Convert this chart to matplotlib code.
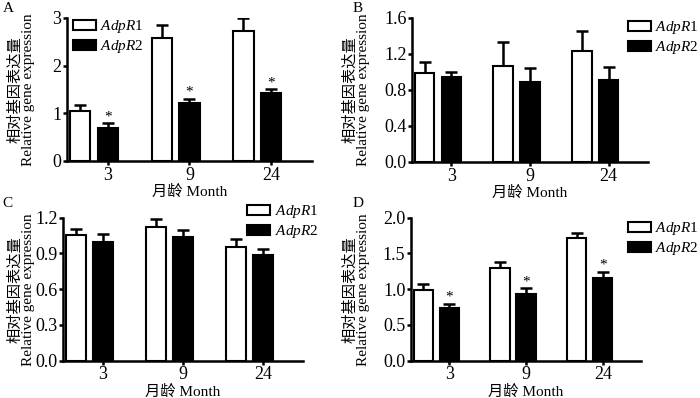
import numpy as np
import matplotlib
matplotlib.use("Agg")
import matplotlib.pyplot as plt
from matplotlib.patches import Patch

plt.rcParams["font.family"] = ["Liberation Serif", "Noto Sans CJK SC"]
plt.rcParams["mathtext.fontset"] = "custom"
plt.rcParams["mathtext.rm"] = "Liberation Serif"
plt.rcParams["mathtext.it"] = "Liberation Serif:italic"
plt.rcParams["font.size"] = 11

months = ["3", "9", "24"]
lab_r1 = r"$\it{AdpR}$1"
lab_r2 = r"$\it{AdpR2}$"

# panel A
a_r1 = [1.05, 2.58, 2.72]
a_r1_err = [0.12, 0.28, 0.27]
a_r2 = [0.70, 1.21, 1.42]
a_r2_err = [0.09, 0.09, 0.08]
a_star = [True, True, True]

# panel B
b_r1 = [0.99, 1.07, 1.23]
b_r1_err = [0.12, 0.26, 0.23]
b_r2 = [0.94, 0.89, 0.91]
b_r2_err = [0.06, 0.15, 0.15]
b_star = [False, False, False]

# panel C
c_r1 = [1.055, 1.12, 0.954]
c_r1_err = [0.052, 0.066, 0.066]
c_r2 = [1.00, 1.04, 0.89]
c_r2_err = [0.065, 0.06, 0.05]
c_star = [False, False, False]

# panel D
d_r1 = [0.985, 1.29, 1.72]
d_r1_err = [0.085, 0.09, 0.07]
d_r2 = [0.74, 0.93, 1.16]
d_r2_err = [0.06, 0.08, 0.085]
d_star = [True, True, True]

panels = [
    ("A", [0.0957, 0.5955, 0.350, 0.3593], a_r1, a_r1_err, a_r2, a_r2_err, a_star,
     3, [0, 1, 2, 3], ["0", "1", "2", "3"], (0.104, 0.954), -0.131),
    ("B", [0.5886, 0.5930, 0.337, 0.3620], b_r1, b_r1_err, b_r2, b_r2_err, b_star,
     1.6, [0, 0.4, 0.8, 1.2, 1.6], ["0.0", "0.4", "0.8", "1.2", "1.6"], (0.897, 0.952), -0.178),
    ("C", [0.0900, 0.0937, 0.343, 0.3593], c_r1, c_r1_err, c_r2, c_r2_err, c_star,
     1.2, [0, 0.3, 0.6, 0.9, 1.2], ["0.0", "0.3", "0.6", "0.9", "1.2"], (0.353, 0.4900), -0.117),
    ("D", [0.5870, 0.0937, 0.329, 0.3593], d_r1, d_r1_err, d_r2, d_r2_err, d_star,
     2.0, [0, 0.5, 1.0, 1.5, 2.0], ["0.0", "0.5", "1.0", "1.5", "2.0"], (0.897, 0.4470), -0.178),
]

fig = plt.figure(figsize=(7, 3.98), dpi=100)
x = np.arange(len(months))
w = 0.25
off = -0.34

for name, rect, r1, r1e, r2, r2e, stars, ymax, yt, ytl, leg_xy, ylab_x in panels:
    ax = fig.add_axes(rect)
    ax.errorbar(x + off, r1, yerr=[np.zeros(3), r1e], fmt="none", ecolor="black",
                elinewidth=1.8, capsize=4.3, capthick=1.8, zorder=1)
    ax.errorbar(x, r2, yerr=[np.zeros(3), r2e], fmt="none", ecolor="black",
                elinewidth=1.8, capsize=4.3, capthick=1.8, zorder=1)
    ax.bar(x + off, r1, width=w, color="white", edgecolor="black", linewidth=1.5, zorder=2)
    ax.bar(x, r2, width=w, color="black", edgecolor="black", linewidth=1.5, zorder=2)
    for i in range(3):
        if stars[i]:
            ax.annotate("*", (x[i], r2[i] + r2e[i]), xytext=(0, 0), textcoords="offset points",
                        ha="center", va="bottom", fontsize=11)
    ax.set_xlim(-0.5, 2.5)
    ax.set_ylim(0, ymax)
    ax.set_xticks(x)
    ax.set_xticklabels(months)
    ax.set_yticks(yt)
    ax.set_yticklabels(ytl)
    for s in ["top", "right"]:
        ax.spines[s].set_visible(False)
    for s in ["left", "bottom"]:
        ax.spines[s].set_linewidth(1.8)
    ax.tick_params(width=1.8, length=3, pad=1, labelsize=13)
    ax.set_xlabel("月龄 Month", labelpad=1)
    ax.set_ylabel("相对基因表达量\nRelative gene expression", linespacing=1.0)
    ax.yaxis.set_label_coords(ylab_x, 0.5)
    handles = [Patch(facecolor="white", edgecolor="black", linewidth=1.5),
               Patch(facecolor="black", edgecolor="black", linewidth=1.5)]
    fig.legend(handles, [lab_r1, lab_r2], loc="upper left", bbox_to_anchor=leg_xy,
               frameon=False, borderpad=0, borderaxespad=0, handlelength=1.5,
               handleheight=0.65, handletextpad=0.3, labelspacing=0.2, fontsize=11)

fig.text(0.004, 0.995, "A", ha="left", va="top", fontsize=11)
fig.text(0.503, 0.995, "B", ha="left", va="top", fontsize=11)
fig.text(0.004, 0.505, "C", ha="left", va="top", fontsize=11)
fig.text(0.503, 0.505, "D", ha="left", va="top", fontsize=11)

fig.savefig("out.png", dpi=100)
